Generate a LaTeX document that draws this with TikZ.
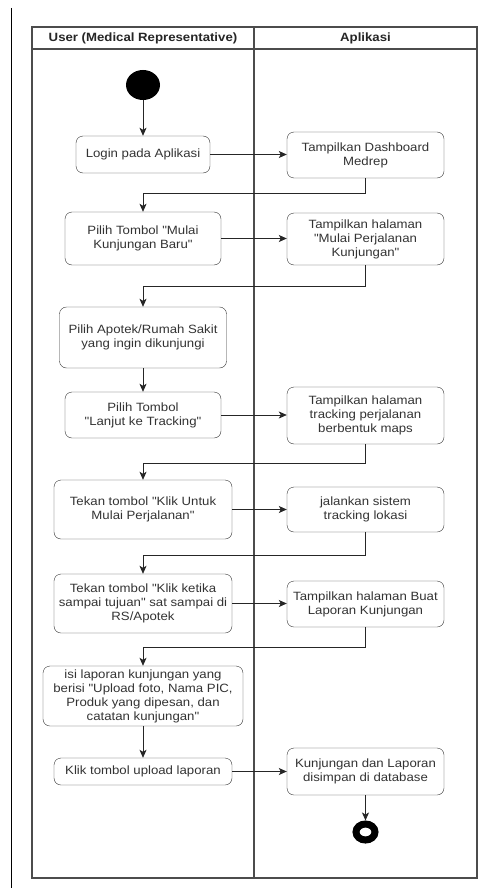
\documentclass[tikz,border=0pt]{standalone}
\usepackage{fontspec}
\setmainfont[FakeStretch=1.1, Ligatures=TeXOff]{Liberation Sans}
\usetikzlibrary{arrows.meta,shapes.geometric}

\begin{document}
\begin{tikzpicture}[
      x=1pt, y=-1pt,
      act/.style ={draw=black!80, rounded corners=7pt, align=center, text=black!80,
                   inner sep=1pt, font=\fontsize{12}{14}\selectfont},
      lane/.style ={draw=black!70, line width=1.1pt},
      lanehead/.style ={font=\fontsize{12}{14}\selectfont\bfseries, text=black!85},
      flow/.style ={draw=black!85, line width=0.8pt, -{Stealth[length=8pt,width=7pt,inset=2pt]}}]
    \useasboundingbox (0,0) rectangle (486,888);
    \draw[line width=0.9pt] (11,8) -- (11,888);
    \draw[lane] (32,27) rectangle (477,878);
    \draw[lane] (32,49) -- (477,49);
    \draw[lane] (254,27) -- (254,878);
    \node[lanehead] (userhd) at (143,38) {User (Medical Representative)};
    \node[lanehead] (apphd) at (365.5,38) {Aplikasi};
    \node[ellipse, fill=black, minimum width=34, minimum height=30, inner sep=0pt] (start) at (143,85) {};
    \node[act, minimum width=134, minimum height=37] (login) at (143,154.5) {Login pada Aplikasi};
    \node[act, minimum width=157, minimum height=46] (dash) at (365.5,155) {Tampilkan Dashboard\\Medrep};
    \node[act, minimum width=156, minimum height=53] (mulai) at (143,238.5) {Pilih Tombol "Mulai\\Kunjungan Baru"};
    \node[act, minimum width=157, minimum height=52] (halmulai) at (365.5,239) {Tampilkan halaman\\"Mulai Perjalanan\\Kunjungan"};
    \node[act, minimum width=167, minimum height=61] (apotek) at (143,337.5) {Pilih Apotek/Rumah Sakit\\yang ingin dikunjungi};
    \node[act, minimum width=156, minimum height=46] (lanjut) at (143,415) {Pilih Tombol\\"Lanjut ke Tracking"};
    \node[act, minimum width=157, minimum height=57] (haltrack) at (365.5,415.5) {Tampilkan halaman\\tracking perjalanan\\berbentuk maps};
    \node[act, minimum width=178, minimum height=59] (klik) at (143,509.5) {Tekan tombol "Klik Untuk\\Mulai Perjalanan"};
    \node[act, minimum width=157, minimum height=45] (jalan) at (365.5,509.5) {jalankan sistem\\tracking lokasi};
    \node[act, minimum width=178, minimum height=59] (tiba) at (143,603.5) {Tekan tombol "Klik ketika\\sampai tujuan" sat sampai di\\RS/Apotek};
    \node[act, minimum width=157, minimum height=46] (halbuat) at (365.5,604) {Tampilkan halaman Buat\\Laporan Kunjungan};
    \node[act, minimum width=200, minimum height=60] (isi) at (143,696) {isi laporan kunjungan yang\\berisi "Upload foto, Nama PIC,\\Produk yang dipesan, dan\\catatan kunjungan"};
    \node[act, minimum width=178, minimum height=27] (upload) at (143,771.5) {Klik tombol upload laporan};
    \node[act, minimum width=157, minimum height=47] (simpan) at (365.5,771.5) {Kunjungan dan Laporan\\disimpan di database};
    \node[ellipse, draw=black, line width=7pt, minimum width=19, minimum height=16, inner sep=0pt, outer sep=3.5pt] (stop) at (365.5,832) {};
    \draw[flow] (start) -- (login);
    \draw[flow] (login.east) -- (login.east -| dash.west);
    \draw[flow] (dash.south) -- ++(0,15) -| (mulai.north);
    \draw[flow] (mulai.east) -- (mulai.east -| halmulai.west);
    \draw[flow] (halmulai.south) -- ++(0,21) -| (apotek.north);
    \draw[flow] (apotek) -- (lanjut);
    \draw[flow] (lanjut.east) -- (lanjut.east -| haltrack.west);
    \draw[flow] (haltrack.south) -- ++(0,19) -| (klik.north);
    \draw[flow] (klik.east) -- (klik.east -| jalan.west);
    \draw[flow] (jalan.south) -- ++(0,23) -| (tiba.north);
    \draw[flow] (tiba.east) -- (tiba.east -| halbuat.west);
    \draw[flow] (halbuat.south) -- ++(0,20) -| (isi.north);
    \draw[flow] (isi) -- (upload);
    \draw[flow] (upload.east) -- (upload.east -| simpan.west);
    \draw[flow] (simpan) -- (stop);
    \end{tikzpicture}
\end{document}
